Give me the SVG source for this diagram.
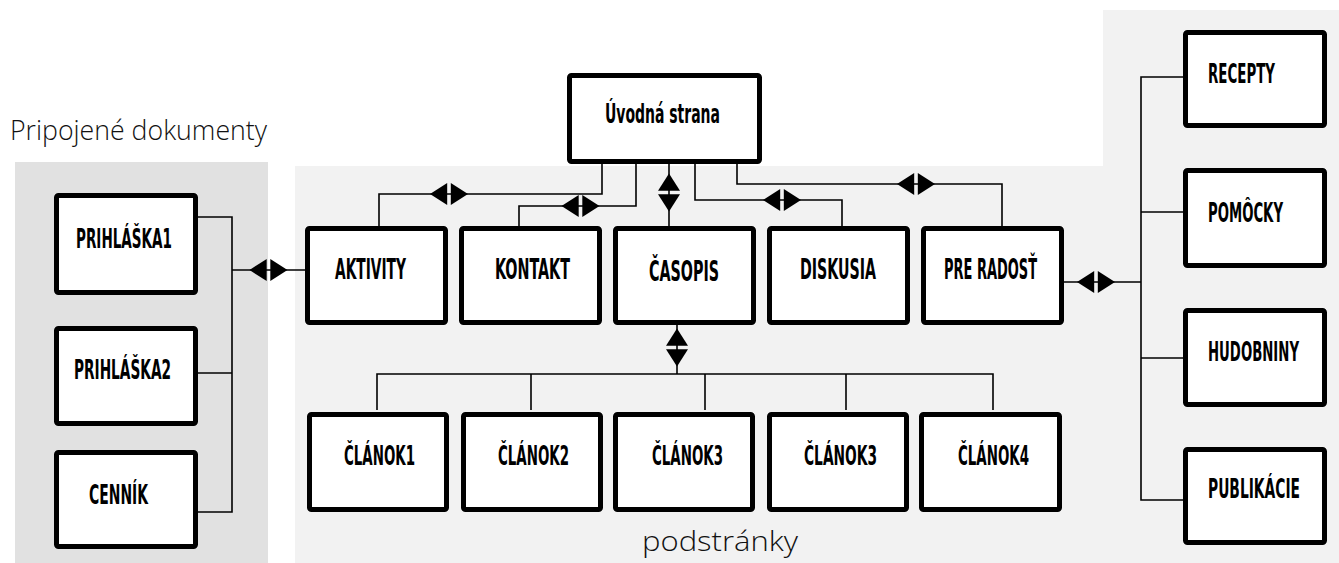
<svg xmlns="http://www.w3.org/2000/svg" xmlns:xlink="http://www.w3.org/1999/xlink" width="1339" height="563" viewBox="0 0 1339 563">
<style>
.box{fill:#fff;stroke:#000;stroke-width:5;}
.lbl{font-family:"Liberation Sans Narrow","DejaVu Sans Condensed","Liberation Sans",sans-serif;font-weight:bold;font-size:27px;fill:#000;}
.big{font-size:29px;}
.cap{font-family:"Open Sans","Liberation Sans",sans-serif;font-weight:300;font-size:27px;fill:#111;}
.ln{fill:none;stroke:#000;stroke-width:1.6;}
</style>
<defs>
<g id="pairH">
<polygon points="-19,0 -1.8,-11 -1.8,11" fill="#000"/>
<polygon points="1.8,-11 19,0 1.8,11" fill="#000"/>
</g>
</defs>
<g id="panels">
<rect x="15" y="162" width="253" height="401" fill="#e1e1e1"/>
<path d="M295,166 H1103 V10 H1339 V563 H295 Z" fill="#f2f2f2"/>
<text class="cap" x="10" y="140" textLength="257" lengthAdjust="spacingAndGlyphs">Pripojené dokumenty</text>
<text class="cap" x="642" y="551" textLength="156" lengthAdjust="spacingAndGlyphs">podstránky</text>
</g>
<g id="connectors">
<polyline class="ln" points="198,217 232,217 232,512 198,512"/>
<line class="ln" x1="198" y1="373" x2="232" y2="373"/>
<line class="ln" x1="232" y1="270" x2="305" y2="270"/>
<polyline class="ln" points="1183,77 1141,77 1141,500 1183,500"/>
<line class="ln" x1="1141" y1="212" x2="1183" y2="212"/>
<line class="ln" x1="1141" y1="358" x2="1183" y2="358"/>
<line class="ln" x1="1064" y1="282" x2="1141" y2="282"/>
<polyline class="ln" points="602,164 602,194 379,194 379,226"/>
<polyline class="ln" points="636,164 636,206 519,206 519,226"/>
<line class="ln" x1="669" y1="164" x2="669" y2="226"/>
<polyline class="ln" points="695,164 695,200 842,200 842,226"/>
<polyline class="ln" points="737,164 737,184 1002,184 1002,226"/>
<line class="ln" x1="677" y1="325" x2="677" y2="374"/>
<polyline class="ln" points="377,410 377,374 993,374 993,410"/>
<line class="ln" x1="531" y1="374" x2="531" y2="410"/>
<line class="ln" x1="705" y1="374" x2="705" y2="410"/>
<line class="ln" x1="846" y1="374" x2="846" y2="410"/>
<use xlink:href="#pairH" transform="translate(268.5,270)"/>
<use xlink:href="#pairH" transform="translate(1096,282)"/>
<use xlink:href="#pairH" transform="translate(449,194)"/>
<use xlink:href="#pairH" transform="translate(580.5,206)"/>
<use xlink:href="#pairH" transform="translate(782,200)"/>
<use xlink:href="#pairH" transform="translate(916,184)"/>
<use xlink:href="#pairH" transform="translate(669,192.5) rotate(90)"/>
<use xlink:href="#pairH" transform="translate(677,347.5) rotate(90)"/>
</g>
<g id="n-uvod"><rect class="box" x="569.5" y="75.5" width="190" height="86" rx="2"/><text class="lbl" transform="translate(605,123) scale(0.7,1)" textLength="164.3" lengthAdjust="spacingAndGlyphs">Úvodná strana</text></g>
<g id="n-aktivity"><rect class="box" x="307.5" y="228.5" width="138" height="94" rx="2"/><text class="lbl big" transform="translate(335,279) scale(0.7,1)" textLength="101.4" lengthAdjust="spacingAndGlyphs">AKTIVITY</text></g>
<g id="n-kontakt"><rect class="box" x="461.5" y="228.5" width="138" height="94" rx="2"/><text class="lbl big" transform="translate(495,279) scale(0.7,1)" textLength="107.1" lengthAdjust="spacingAndGlyphs">KONTAKT</text></g>
<g id="n-casopis"><rect class="box" x="615.5" y="228.5" width="138" height="94" rx="2"/><text class="lbl big" transform="translate(649,281) scale(0.7,1)" textLength="100" lengthAdjust="spacingAndGlyphs">ČASOPIS</text></g>
<g id="n-diskusia"><rect class="box" x="769.5" y="228.5" width="138" height="94" rx="2"/><text class="lbl big" transform="translate(800,279) scale(0.7,1)" textLength="108.6" lengthAdjust="spacingAndGlyphs">DISKUSIA</text></g>
<g id="n-preradost"><rect class="box" x="923.5" y="228.5" width="138" height="94" rx="2"/><text class="lbl big" transform="translate(944,279) scale(0.7,1)" textLength="132.9" lengthAdjust="spacingAndGlyphs">PRE RADOSŤ</text></g>
<g id="n-prihlaska1"><rect class="box" x="56.5" y="195.5" width="139" height="97" rx="2"/><text class="lbl" transform="translate(76,248) scale(0.7,1)" textLength="137.1" lengthAdjust="spacingAndGlyphs">PRIHLÁŠKA1</text></g>
<g id="n-prihlaska2"><rect class="box" x="56.5" y="328.5" width="139" height="95" rx="2"/><text class="lbl" transform="translate(74,379) scale(0.7,1)" textLength="138.6" lengthAdjust="spacingAndGlyphs">PRIHLÁŠKA2</text></g>
<g id="n-cennik"><rect class="box" x="56.5" y="452.5" width="139" height="94" rx="2"/><text class="lbl" transform="translate(89,504) scale(0.7,1)" textLength="84.3" lengthAdjust="spacingAndGlyphs">CENNÍK</text></g>
<g id="n-recepty"><rect class="box" x="1185.5" y="32.5" width="139" height="93" rx="2"/><text class="lbl" transform="translate(1208,83) scale(0.7,1)" textLength="95.7" lengthAdjust="spacingAndGlyphs">RECEPTY</text></g>
<g id="n-pomocky"><rect class="box" x="1185.5" y="170.5" width="139" height="95" rx="2"/><text class="lbl" transform="translate(1208,222) scale(0.7,1)" textLength="107.1" lengthAdjust="spacingAndGlyphs">POMÔCKY</text></g>
<g id="n-hudobniny"><rect class="box" x="1185.5" y="310.5" width="139" height="94" rx="2"/><text class="lbl" transform="translate(1208,361) scale(0.7,1)" textLength="130" lengthAdjust="spacingAndGlyphs">HUDOBNINY</text></g>
<g id="n-publikacie"><rect class="box" x="1185.5" y="449.5" width="139" height="93" rx="2"/><text class="lbl" transform="translate(1208,498) scale(0.7,1)" textLength="131.4" lengthAdjust="spacingAndGlyphs">PUBLIKÁCIE</text></g>
<g id="n-clanok1"><rect class="box" x="309.5" y="414.5" width="137" height="95" rx="2"/><text class="lbl" transform="translate(344,465) scale(0.7,1)" textLength="101.4" lengthAdjust="spacingAndGlyphs">ČLÁNOK1</text></g>
<g id="n-clanok2"><rect class="box" x="463.5" y="414.5" width="137" height="95" rx="2"/><text class="lbl" transform="translate(498,465) scale(0.7,1)" textLength="101.4" lengthAdjust="spacingAndGlyphs">ČLÁNOK2</text></g>
<g id="n-clanok3a"><rect class="box" x="615.5" y="414.5" width="137" height="95" rx="2"/><text class="lbl" transform="translate(652,465) scale(0.7,1)" textLength="101.4" lengthAdjust="spacingAndGlyphs">ČLÁNOK3</text></g>
<g id="n-clanok3b"><rect class="box" x="769.5" y="414.5" width="137" height="95" rx="2"/><text class="lbl" transform="translate(804,465) scale(0.7,1)" textLength="104.3" lengthAdjust="spacingAndGlyphs">ČLÁNOK3</text></g>
<g id="n-clanok4"><rect class="box" x="921.5" y="414.5" width="138" height="95" rx="2"/><text class="lbl" transform="translate(958,465) scale(0.7,1)" textLength="101.4" lengthAdjust="spacingAndGlyphs">ČLÁNOK4</text></g>
</svg>
